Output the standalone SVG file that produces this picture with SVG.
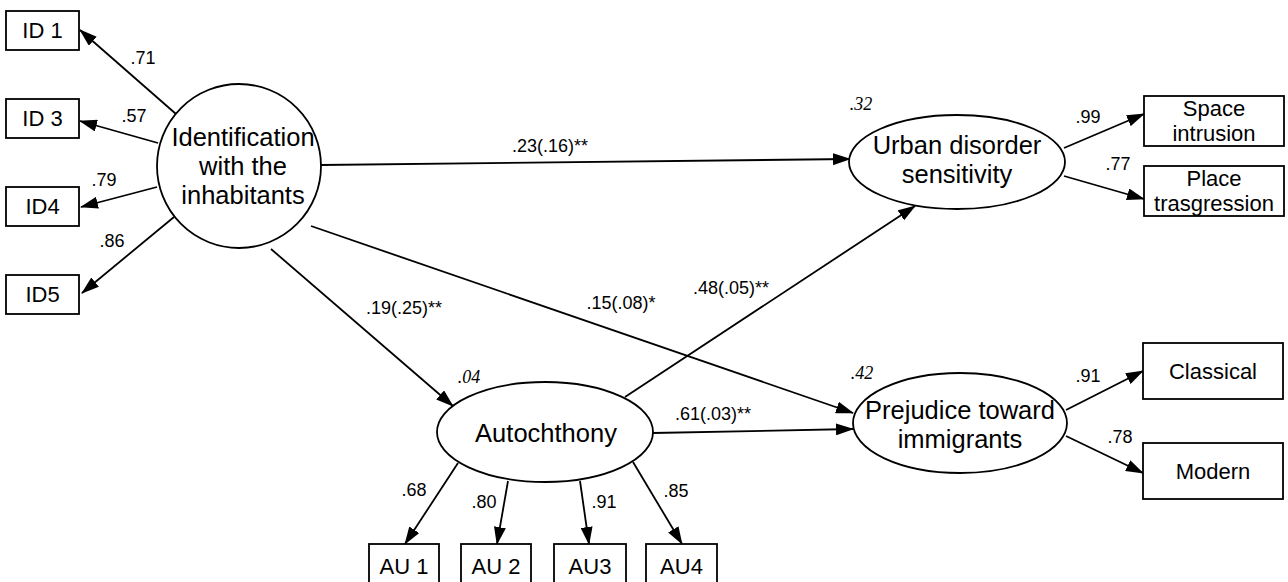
<svg xmlns="http://www.w3.org/2000/svg" width="1288" height="582" viewBox="0 0 1288 582">
<style>
.n{fill:#fff;stroke:#000;stroke-width:1.8}
.t{font-family:"Liberation Sans",Arial,sans-serif;fill:#000;text-anchor:middle}
.big{font-size:25.5px}
.box{font-size:22px}
.e{font-family:"Liberation Sans",Arial,sans-serif;font-size:18px;fill:#000;text-anchor:middle}
.r{font-family:"Liberation Serif","Times New Roman",serif;font-style:italic;font-size:18px;fill:#000;text-anchor:middle}
.c line{stroke:#000;stroke-width:1.8;marker-end:url(#ah)}
</style>
<defs>
<marker id="ah" markerUnits="userSpaceOnUse" markerWidth="18" markerHeight="12" viewBox="0 0 18 12" refX="17" refY="6" orient="auto">
<path d="M0,0 L18,6 L0,12 z" fill="#000"/>
</marker>
</defs>
<rect width="1288" height="582" fill="#fff"/>
<g class="c" id="connectors">
<line x1="176" y1="114" x2="80" y2="30"/>
<line x1="158" y1="143" x2="80" y2="121"/>
<line x1="157" y1="187" x2="81" y2="207"/>
<line x1="174" y1="217" x2="82" y2="293"/>
<line x1="321" y1="165" x2="850" y2="159"/>
<line x1="311" y1="226" x2="853" y2="413"/>
<line x1="271" y1="249" x2="453" y2="406"/>
<line x1="625" y1="397" x2="915" y2="206"/>
<line x1="653" y1="433" x2="853" y2="429"/>
<line x1="1064" y1="148" x2="1144" y2="114"/>
<line x1="1064" y1="176" x2="1144" y2="199"/>
<line x1="1066" y1="410" x2="1143" y2="371"/>
<line x1="1066" y1="436" x2="1143" y2="473"/>
<line x1="458" y1="463" x2="405" y2="544"/>
<line x1="508" y1="481" x2="497" y2="544"/>
<line x1="580" y1="481" x2="589" y2="544"/>
<line x1="633" y1="462" x2="682" y2="544"/>
</g>
<g id="labels">
<text class="e" x="143" y="64">.71</text>
<text class="e" x="134" y="122">.57</text>
<text class="e" x="104" y="186">.79</text>
<text class="e" x="112" y="247">.86</text>
<text class="e" x="550" y="152">.23(.16)**</text>
<text class="e" x="404" y="314">.19(.25)**</text>
<text class="e" x="621" y="309">.15(.08)*</text>
<text class="e" x="731" y="294">.48(.05)**</text>
<text class="e" x="713" y="420">.61(.03)**</text>
<text class="e" x="1088" y="123">.99</text>
<text class="e" x="1118" y="170">.77</text>
<text class="e" x="1088" y="382">.91</text>
<text class="e" x="1120" y="443">.78</text>
<text class="e" x="414" y="496">.68</text>
<text class="e" x="484" y="508">.80</text>
<text class="e" x="604" y="508">.91</text>
<text class="e" x="676" y="497">.85</text>
<text class="r" x="861" y="110">.32</text>
<text class="r" x="862" y="379">.42</text>
<text class="r" x="469" y="383">.04</text>
</g>
<g id="ident"><circle class="n" cx="239" cy="166" r="82"/>
<text class="t big" x="243" y="146">Identification</text>
<text class="t big" x="243" y="175">with the</text>
<text class="t big" x="243" y="204">inhabitants</text></g>
<g id="urban"><ellipse class="n" cx="957" cy="162" rx="108" ry="47"/>
<text class="t big" x="957" y="154">Urban disorder</text>
<text class="t big" x="957" y="183">sensitivity</text></g>
<g id="prejudice"><ellipse class="n" cx="960" cy="423" rx="107" ry="50"/>
<text class="t big" x="960" y="419">Prejudice toward</text>
<text class="t big" x="960" y="448">immigrants</text></g>
<g id="autochthony"><ellipse class="n" cx="545" cy="432" rx="108" ry="50"/>
<text class="t big" x="546" y="442">Autochthony</text></g>
<g id="id1"><rect class="n" x="6" y="11" width="73" height="39"/><text class="t box" x="42.5" y="38">ID 1</text></g>
<g id="id3"><rect class="n" x="6" y="99" width="73" height="39"/><text class="t box" x="42.5" y="126">ID 3</text></g>
<g id="id4"><rect class="n" x="6" y="187" width="73" height="39"/><text class="t box" x="42.5" y="214">ID4</text></g>
<g id="id5"><rect class="n" x="6" y="275" width="73" height="39"/><text class="t box" x="42.5" y="302">ID5</text></g>
<g id="space"><rect class="n" x="1144" y="96" width="140" height="50"/>
<text class="t box" x="1214" y="116">Space</text><text class="t box" x="1214" y="141">intrusion</text></g>
<g id="place"><rect class="n" x="1144" y="166" width="140" height="50"/>
<text class="t box" x="1214" y="186">Place</text><text class="t box" x="1214" y="211">trasgression</text></g>
<g id="classical"><rect class="n" x="1143" y="343" width="140" height="56"/><text class="t box" x="1213" y="379">Classical</text></g>
<g id="modern"><rect class="n" x="1143" y="443" width="140" height="56"/><text class="t box" x="1213" y="479">Modern</text></g>
<g id="au1"><rect class="n" x="369" y="544" width="70" height="40"/><text class="t box" x="404" y="574">AU 1</text></g>
<g id="au2"><rect class="n" x="461" y="544" width="70" height="40"/><text class="t box" x="496" y="574">AU 2</text></g>
<g id="au3"><rect class="n" x="554" y="544" width="72" height="40"/><text class="t box" x="590" y="574">AU3</text></g>
<g id="au4"><rect class="n" x="646" y="544" width="71" height="40"/><text class="t box" x="681.5" y="574">AU4</text></g>
</svg>
